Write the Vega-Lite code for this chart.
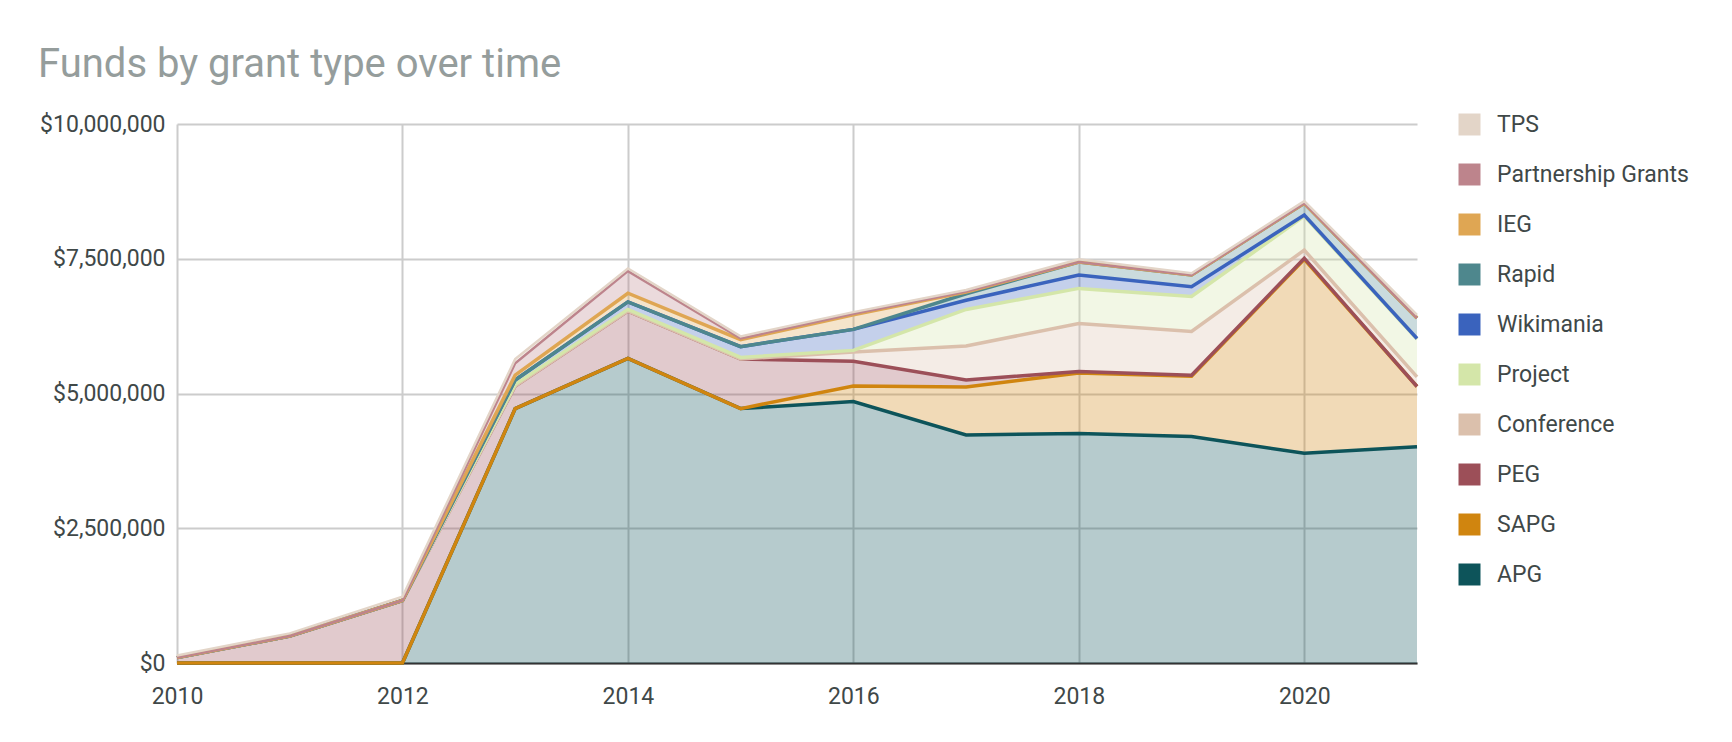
{
  "$schema": "https://vega.github.io/schema/vega-lite/v6.json",
  "width": 1240,
  "height": 539,
  "autosize": {"type": "none"},
  "padding": {"left": 177, "top": 124, "right": 315, "bottom": 79},
  "background": "white",
  "title": {
    "text": "Funds by grant type over time",
    "anchor": "start",
    "frame": "group",
    "font": "Roboto",
    "fontSize": 40,
    "fontWeight": "normal",
    "color": "#959d9c",
    "dx": -139,
    "dy": 53,
    "offset": 49,
    "baseline": "alphabetic"
  },
  "config": {
    "font": "Roboto",
    "view": {"stroke": null}
  },
  "datasets": {
    "funds": [
      {"year": 2010, "type": "APG", "usd": 0}, {"year": 2010, "type": "SAPG", "usd": 0}, {"year": 2010, "type": "PEG", "usd": 100000}, {"year": 2010, "type": "Conference", "usd": 0}, {"year": 2010, "type": "Project", "usd": 0}, {"year": 2010, "type": "Wikimania", "usd": 0}, {"year": 2010, "type": "Rapid", "usd": 0}, {"year": 2010, "type": "IEG", "usd": 0}, {"year": 2010, "type": "Partnership Grants", "usd": 0}, {"year": 2010, "type": "TPS", "usd": 40000},
      {"year": 2011, "type": "APG", "usd": 0}, {"year": 2011, "type": "SAPG", "usd": 0}, {"year": 2011, "type": "PEG", "usd": 500000}, {"year": 2011, "type": "Conference", "usd": 0}, {"year": 2011, "type": "Project", "usd": 0}, {"year": 2011, "type": "Wikimania", "usd": 0}, {"year": 2011, "type": "Rapid", "usd": 0}, {"year": 2011, "type": "IEG", "usd": 0}, {"year": 2011, "type": "Partnership Grants", "usd": 0}, {"year": 2011, "type": "TPS", "usd": 50000},
      {"year": 2012, "type": "APG", "usd": 0}, {"year": 2012, "type": "SAPG", "usd": 0}, {"year": 2012, "type": "PEG", "usd": 1160000}, {"year": 2012, "type": "Conference", "usd": 0}, {"year": 2012, "type": "Project", "usd": 0}, {"year": 2012, "type": "Wikimania", "usd": 0}, {"year": 2012, "type": "Rapid", "usd": 0}, {"year": 2012, "type": "IEG", "usd": 0}, {"year": 2012, "type": "Partnership Grants", "usd": 0}, {"year": 2012, "type": "TPS", "usd": 70000},
      {"year": 2013, "type": "APG", "usd": 4720000}, {"year": 2013, "type": "SAPG", "usd": 0}, {"year": 2013, "type": "PEG", "usd": 420000}, {"year": 2013, "type": "Conference", "usd": 0}, {"year": 2013, "type": "Project", "usd": 30000}, {"year": 2013, "type": "Wikimania", "usd": 80000}, {"year": 2013, "type": "Rapid", "usd": 0}, {"year": 2013, "type": "IEG", "usd": 90000}, {"year": 2013, "type": "Partnership Grants", "usd": 220000}, {"year": 2013, "type": "TPS", "usd": 80000},
      {"year": 2014, "type": "APG", "usd": 5650000}, {"year": 2014, "type": "SAPG", "usd": 0}, {"year": 2014, "type": "PEG", "usd": 880000}, {"year": 2014, "type": "Conference", "usd": 0}, {"year": 2014, "type": "Project", "usd": 30000}, {"year": 2014, "type": "Wikimania", "usd": 140000}, {"year": 2014, "type": "Rapid", "usd": 0}, {"year": 2014, "type": "IEG", "usd": 160000}, {"year": 2014, "type": "Partnership Grants", "usd": 410000}, {"year": 2014, "type": "TPS", "usd": 50000},
      {"year": 2015, "type": "APG", "usd": 4720000}, {"year": 2015, "type": "SAPG", "usd": 0}, {"year": 2015, "type": "PEG", "usd": 920000}, {"year": 2015, "type": "Conference", "usd": 0}, {"year": 2015, "type": "Project", "usd": 30000}, {"year": 2015, "type": "Wikimania", "usd": 200000}, {"year": 2015, "type": "Rapid", "usd": 0}, {"year": 2015, "type": "IEG", "usd": 130000}, {"year": 2015, "type": "Partnership Grants", "usd": 20000}, {"year": 2015, "type": "TPS", "usd": 40000},
      {"year": 2016, "type": "APG", "usd": 4850000}, {"year": 2016, "type": "SAPG", "usd": 290000}, {"year": 2016, "type": "PEG", "usd": 460000}, {"year": 2016, "type": "Conference", "usd": 170000}, {"year": 2016, "type": "Project", "usd": 30000}, {"year": 2016, "type": "Wikimania", "usd": 390000}, {"year": 2016, "type": "Rapid", "usd": 0}, {"year": 2016, "type": "IEG", "usd": 270000}, {"year": 2016, "type": "Partnership Grants", "usd": 20000}, {"year": 2016, "type": "TPS", "usd": 30000},
      {"year": 2017, "type": "APG", "usd": 4230000}, {"year": 2017, "type": "SAPG", "usd": 890000}, {"year": 2017, "type": "PEG", "usd": 130000}, {"year": 2017, "type": "Conference", "usd": 630000}, {"year": 2017, "type": "Project", "usd": 680000}, {"year": 2017, "type": "Wikimania", "usd": 170000}, {"year": 2017, "type": "Rapid", "usd": 120000}, {"year": 2017, "type": "IEG", "usd": 30000}, {"year": 2017, "type": "Partnership Grants", "usd": 10000}, {"year": 2017, "type": "TPS", "usd": 30000},
      {"year": 2018, "type": "APG", "usd": 4260000}, {"year": 2018, "type": "SAPG", "usd": 1120000}, {"year": 2018, "type": "PEG", "usd": 30000}, {"year": 2018, "type": "Conference", "usd": 890000}, {"year": 2018, "type": "Project", "usd": 650000}, {"year": 2018, "type": "Wikimania", "usd": 250000}, {"year": 2018, "type": "Rapid", "usd": 240000}, {"year": 2018, "type": "IEG", "usd": 0}, {"year": 2018, "type": "Partnership Grants", "usd": 0}, {"year": 2018, "type": "TPS", "usd": 50000},
      {"year": 2019, "type": "APG", "usd": 4200000}, {"year": 2019, "type": "SAPG", "usd": 1120000}, {"year": 2019, "type": "PEG", "usd": 20000}, {"year": 2019, "type": "Conference", "usd": 810000}, {"year": 2019, "type": "Project", "usd": 650000}, {"year": 2019, "type": "Wikimania", "usd": 180000}, {"year": 2019, "type": "Rapid", "usd": 220000}, {"year": 2019, "type": "IEG", "usd": 0}, {"year": 2019, "type": "Partnership Grants", "usd": 0}, {"year": 2019, "type": "TPS", "usd": 30000},
      {"year": 2020, "type": "APG", "usd": 3890000}, {"year": 2020, "type": "SAPG", "usd": 3600000}, {"year": 2020, "type": "PEG", "usd": 20000}, {"year": 2020, "type": "Conference", "usd": 150000}, {"year": 2020, "type": "Project", "usd": 630000}, {"year": 2020, "type": "Wikimania", "usd": 20000}, {"year": 2020, "type": "Rapid", "usd": 220000}, {"year": 2020, "type": "IEG", "usd": 0}, {"year": 2020, "type": "Partnership Grants", "usd": 0}, {"year": 2020, "type": "TPS", "usd": 40000},
      {"year": 2021, "type": "APG", "usd": 4010000}, {"year": 2021, "type": "SAPG", "usd": 1120000}, {"year": 2021, "type": "PEG", "usd": 0}, {"year": 2021, "type": "Conference", "usd": 180000}, {"year": 2021, "type": "Project", "usd": 700000}, {"year": 2021, "type": "Wikimania", "usd": 10000}, {"year": 2021, "type": "Rapid", "usd": 380000}, {"year": 2021, "type": "IEG", "usd": 0}, {"year": 2021, "type": "Partnership Grants", "usd": 0}, {"year": 2021, "type": "TPS", "usd": 60000}
    ]
  },
  "data": {"name": "funds"},
  "transform": [
    {"window": [{"op": "row_number", "as": "rank"}], "groupby": ["year"]},
    {"stack": "usd", "groupby": ["year"], "sort": [{"field": "rank", "order": "ascending"}], "as": ["y0", "y1"]}
  ],
  "encoding": {
    "x": {
      "field": "year",
      "type": "quantitative",
      "scale": {"domain": [2010, 2021], "nice": false, "zero": false},
      "axis": {
        "values": [2010, 2012, 2014, 2016, 2018, 2020],
        "format": "d",
        "title": null,
        "ticks": false,
        "labelPadding": 22,
        "labelFontSize": 23,
        "labelColor": "#3f4848",
        "labelFlush": false,
        "domainColor": "#333333",
        "domainWidth": 2,
        "grid": true,
        "gridColor": "#cccccc",
        "gridWidth": 2
      }
    },
    "color": {
      "field": "type",
      "type": "nominal",
      "scale": {
        "domain": ["TPS", "Partnership Grants", "IEG", "Rapid", "Wikimania", "Project", "Conference", "PEG", "SAPG", "APG"],
        "range": ["#e3d5c8", "#bd848c", "#dfa653", "#4e878d", "#3a63bd", "#d4e6a9", "#dbc0ac", "#9c4f58", "#d0850f", "#0d545a"]
      },
      "legend": {
        "orient": "none",
        "legendX": 1281,
        "legendY": -11,
        "title": null,
        "values": ["TPS", "Partnership Grants", "IEG", "Rapid", "Wikimania", "Project", "Conference", "PEG", "SAPG", "APG"],
        "symbolType": "square",
        "symbolSize": 484,
        "symbolOpacity": 1,
        "symbolStrokeWidth": 0,
        "labelFontSize": 23,
        "labelColor": "#3f4848",
        "labelOffset": 16,
        "labelLimit": 400,
        "rowPadding": 26,
        "padding": 0
      }
    }
  },
  "layer": [
    {
      "mark": {"type": "area", "opacity": 0.3},
      "encoding": {
        "y": {
          "field": "y1",
          "type": "quantitative",
          "scale": {"domain": [0, 10000000], "nice": false},
          "axis": {
            "values": [0, 2500000, 5000000, 7500000, 10000000],
            "format": "$,.0f",
            "title": null,
            "domain": false,
            "ticks": false,
            "labelPadding": 12,
            "labelFontSize": 23,
            "labelColor": "#3f4848",
            "gridColor": "#cccccc",
            "gridWidth": 2
          }
        },
        "y2": {"field": "y0"}
      }
    },
    {
      "transform": [{"filter": {"not": {"field": "type", "oneOf": ["Partnership Grants", "TPS"]}}}],
      "mark": {"type": "line", "strokeWidth": 3.5},
      "encoding": {"y": {"field": "y1", "type": "quantitative"}}
    },
    {
      "transform": [{"filter": {"field": "type", "oneOf": ["Partnership Grants", "TPS"]}}],
      "mark": {"type": "line", "strokeWidth": 2.5},
      "encoding": {"y": {"field": "y1", "type": "quantitative"}}
    }
  ]
}
